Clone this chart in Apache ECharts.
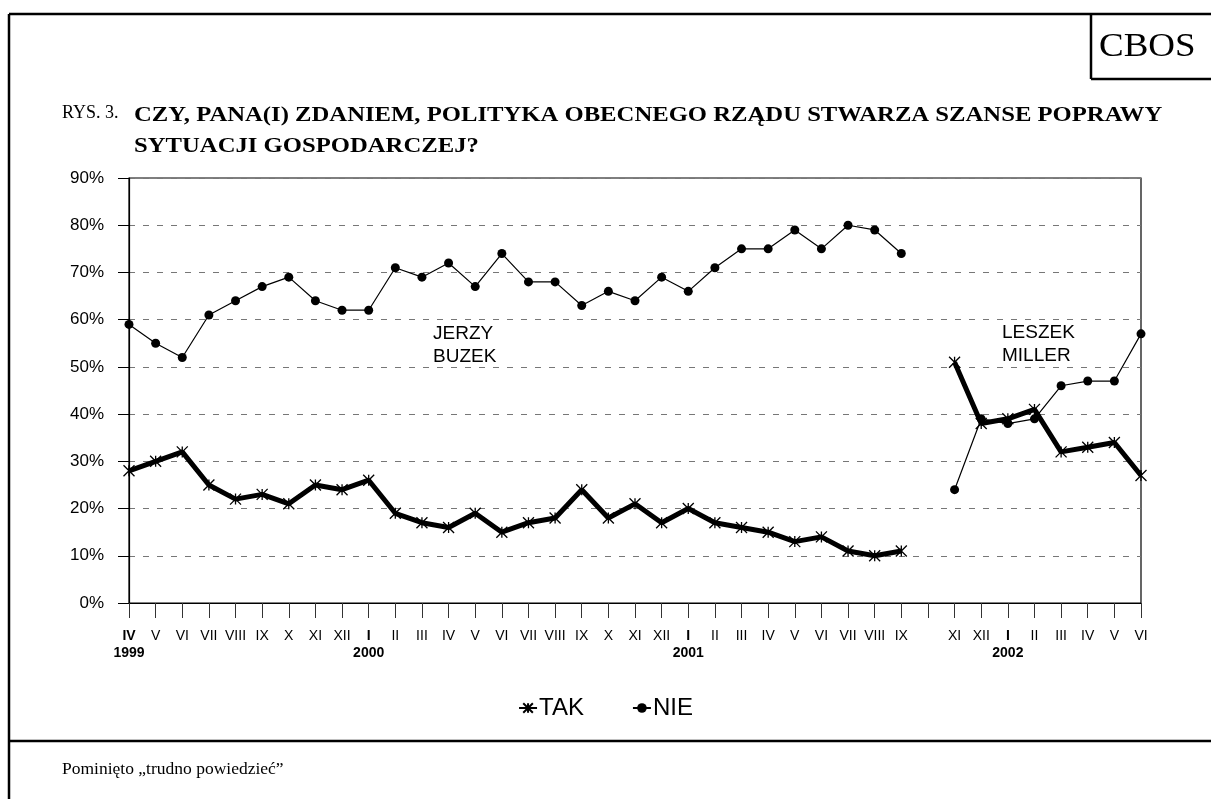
<!DOCTYPE html>
<html>
<head>
<meta charset="utf-8">
<script src="https://cdn.jsdelivr.net/npm/echarts@6/dist/echarts.min.js"></script>
<style>
html,body{margin:0;padding:0;background:#fff;}
#chart{width:1211px;height:799px;}
</style>
</head>
<body>
<div id="chart"></div>
<script>
// Month labels (IV 1999 .. VI 2002); X 2001 has no label
var months = ['IV','V','VI','VII','VIII','IX','X','XI','XII',
  'I','II','III','IV','V','VI','VII','VIII','IX','X','XI','XII',
  'I','II','III','IV','V','VI','VII','VIII','IX','','XI','XII',
  'I','II','III','IV','V','VI'];
// Year labels placed under the first month shown for each year
var yearLabels = {0:'1999', 9:'2000', 21:'2001', 33:'2002'};
var yTicks = [0,10,20,30,40,50,60,70,80,90];

var takValues = [28,30,32,25,22,23,21,25,24,
  26,19,17,16,19,15,17,18,24,18,21,17,
  20,17,16,15,13,14,11,10,11,null,51,38,
  39,41,32,33,34,27];
var nieValues = [59,55,52,61,64,67,69,64,62,
  62,71,69,72,67,74,68,68,63,66,64,69,
  66,71,75,75,79,75,80,79,74,null,24,39,
  38,39,46,47,47,57];

var seriesNames = ['TAK','NIE'];
var titlePrefix = 'RYS. 3.';
var titleLine1 = 'CZY, PANA(I) ZDANIEM, POLITYKA OBECNEGO RZĄDU STWARZA SZANSE POPRAWY';
var titleLine2 = 'SYTUACJI GOSPODARCZEJ?';
var footer = 'Pominięto \u201etrudno powiedzieć\u201d';

var starPath = 'path://M0,0L10,10M0,10L10,0M5,0L5,10';
var SANS = '"Liberation Sans", Arial, sans-serif';
var SERIF = '"Liberation Serif", "Times New Roman", serif';

var chart = echarts.init(document.getElementById('chart'), null, {renderer:'canvas'});

var option = {
  animation: false,
  backgroundColor: '#fff',
  grid: {left:129, right:70, top:178, bottom:196, show:true, borderColor:'#000', borderWidth:1.2, containLabel:false},
  legend: {
    data: seriesNames,
    left: 'center',
    top: 691,
    itemWidth: 18,
    itemHeight: 12,
    itemGap: 48,
    textStyle: {fontFamily: SANS, fontSize: 24, color:'#000', padding:[0,0,0,-3]}
  },
  xAxis: {
    type: 'category',
    data: months,
    boundaryGap: false,
    axisLine: {show:true, lineStyle:{color:'#000', width:1.2}},
    axisTick: {show:true, length:15, interval:0, lineStyle:{color:'#333'}},
    axisLabel: {
      interval: 0,
      margin: 25,
      formatter: function(v, i){
        if (yearLabels[i]) return '{b|' + v + '}\n{y|' + yearLabels[i] + '}';
        return '{m|' + (v === '' ? ' ' : v) + '}';
      },
      rich: {
        m: {fontFamily:SANS, fontSize:14, color:'#000', lineHeight:17},
        b: {fontFamily:SANS, fontSize:14, fontWeight:'bold', color:'#000', lineHeight:17},
        y: {fontFamily:SANS, fontSize:14, fontWeight:'bold', color:'#000', lineHeight:17}
      }
    },
    splitLine: {show:false}
  },
  yAxis: {
    type: 'value',
    min: yTicks[0],
    max: yTicks[yTicks.length-1],
    interval: 10,
    axisLine: {show:true, lineStyle:{color:'#000', width:1.2}},
    axisTick: {show:true, length:11, lineStyle:{color:'#000'}},
    axisLabel: {formatter:'{value}%', fontFamily:SANS, fontSize:17, color:'#000', margin:25},
    splitLine: {show:true, lineStyle:{color:'#777', type:[6,8], width:1}}
  },
  series: [
    {
      name: seriesNames[0],
      type: 'line',
      data: takValues,
      symbol: starPath,
      symbolSize: 11,
      lineStyle: {color:'#000', width:5},
      itemStyle: {color:'#000', borderColor:'#000', borderWidth:1.3},
      z: 3
    },
    {
      name: seriesNames[1],
      type: 'line',
      data: nieValues,
      symbol: 'circle',
      symbolSize: 9,
      lineStyle: {color:'#000', width:1.2},
      itemStyle: {color:'#000', borderWidth:0},
      z: 4
    }
  ],
  graphic: [
    {type:'line', shape:{x1:9, y1:14, x2:1211, y2:14}, style:{stroke:'#000', lineWidth:2.5}},
    {type:'line', shape:{x1:9, y1:14, x2:9, y2:799}, style:{stroke:'#000', lineWidth:2.5}},
    {type:'line', shape:{x1:9, y1:741, x2:1211, y2:741}, style:{stroke:'#000', lineWidth:2.5}},
    {type:'line', shape:{x1:1091, y1:14, x2:1091, y2:79}, style:{stroke:'#000', lineWidth:2.5}},
    {type:'line', shape:{x1:1091, y1:79, x2:1211, y2:79}, style:{stroke:'#000', lineWidth:2.5}},
    {type:'text', x:1099, y:31, scaleX:1.12, style:{text:'CBOS', font:'33px ' + SERIF, fill:'#000'}},
    {type:'text', x:62, y:104, style:{text:titlePrefix, font:'18px ' + SERIF, fill:'#000'}},
    {type:'text', x:134, y:100, scaleX:1.175, style:{text:titleLine1 + '\n' + titleLine2, font:'bold 21px ' + SERIF, fill:'#000', lineHeight:31}},
    {type:'text', x:433, y:322, style:{text:'JERZY\nBUZEK', font:'19px ' + SANS, fill:'#000', lineHeight:23}},
    {type:'text', x:1002, y:321, style:{text:'LESZEK\nMILLER', font:'19px ' + SANS, fill:'#000', lineHeight:23}},
    {type:'text', x:62, y:760, style:{text:footer, font:'17.5px ' + SERIF, fill:'#000'}}
  ]
};
chart.setOption(option);
</script>
</body>
</html>
